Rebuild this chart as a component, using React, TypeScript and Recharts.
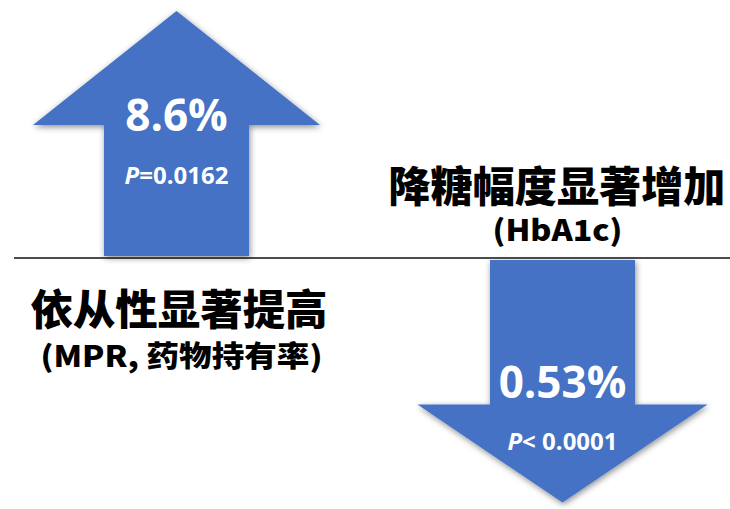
import { ComposedChart, Bar, XAxis, YAxis, ReferenceLine } from "recharts";

const categories = ["MPR", "HbA1c"];
const arrowValues = [1, -0.99];
const changes = ["8.6%", "0.53%"];
const pSigns = ["=", "< "];
const pValues = ["0.0162", "0.0001"];
const titles = ["依从性显著提高", "降糖幅度显著增加"];
const subtitles = ["(MPR, 药物持有率)", "(HbA1c)"];

const data = categories.map((name, i) => ({
  name,
  value: arrowValues[i],
  change: changes[i],
  pSign: pSigns[i],
  pValue: pValues[i],
  title: titles[i],
  subtitle: subtitles[i],
}));

const TITLE_W = [297, 337];
const SUB_W = [282, 130];

const BLUE = "#4472C4";
const NUM_FONT = "'Open Sans', 'Noto Sans', sans-serif";
const CJK_FONT = "'Noto Sans CJK SC', sans-serif";

function ArrowShape(props: any) {
  const { x, y, width, height, payload, index } = props;
  const top = Math.min(y, y + height);
  const bottom = Math.max(y, y + height);
  const cx = x + width / 2;
  const up = payload.value > 0;
  const half = width / 2;
  const fid = `shadow-${index}`;

  let points: string;
  let zero: number;
  let t;
  if (up) {
    zero = bottom;
    const tip = top;
    const headBase = tip + 114;
    const wing = 143.5;
    const sb = zero - 2;
    points = [
      [cx, tip], [cx + wing, headBase], [cx + half, headBase], [cx + half, sb],
      [cx - half, sb], [cx - half, headBase], [cx - wing, headBase],
    ].map((p) => p.join(",")).join(" ");
    t = { change: tip + 120, p: tip + 173, title: zero + 67, sub: zero + 109, hx: cx + 2.5, sx: cx + 5 };
  } else {
    zero = top;
    const tip = bottom;
    const headBase = tip - 98;
    const wing = 145;
    const st = zero + 2;
    points = [
      [cx - half, st], [cx + half, st], [cx + half, headBase], [cx + wing, headBase],
      [cx, tip], [cx - wing, headBase], [cx - half, headBase],
    ].map((p) => p.join(",")).join(" ");
    t = { change: tip - 105, p: tip - 53, title: zero - 56, sub: zero - 17, hx: cx - 5.5, sx: cx - 5 };
  }

  return (
    <g>
      <defs>
        <filter id={fid} x="-20%" y="-20%" width="140%" height="140%">
          <feDropShadow dx="1" dy="2" stdDeviation="3" floodColor="#000" floodOpacity="0.45" />
        </filter>
      </defs>
      <polygon points={points} fill={BLUE} filter={`url(#${fid})`} />
      <text x={cx} y={t.change} textAnchor="middle" fill="#fff" fontSize={44} fontWeight={700} fontFamily={NUM_FONT}>
        {payload.change}
      </text>
      <text x={cx} y={t.p} textAnchor="middle" fill="#fff" fontSize={24} fontWeight={700} fontFamily={NUM_FONT}>
        <tspan fontStyle="italic">P</tspan>
        <tspan>{payload.pSign}</tspan>
        <tspan>{payload.pValue}</tspan>
      </text>
      <text
        x={t.hx - TITLE_W[index] / 2}
        y={t.title}
        textLength={TITLE_W[index]}
        lengthAdjust="spacingAndGlyphs"
        fill="#000"
        fontSize={42}
        fontWeight={900}
        fontFamily={CJK_FONT}
      >
        {payload.title}
      </text>
      <text
        x={t.sx - SUB_W[index] / 2}
        y={t.sub}
        textLength={SUB_W[index]}
        lengthAdjust="spacingAndGlyphs"
        fill="#000"
        fontSize={29}
        fontWeight={900}
        fontFamily={CJK_FONT}
      >
        {payload.subtitle}
      </text>
    </g>
  );
}

function BaseLine(props: any) {
  const { x1, x2, y1 } = props;
  return <line x1={Math.max(x1, 14)} x2={x2} y1={y1} y2={y1} stroke="#111" strokeWidth={1.6} />;
}

export default function App() {
  return (
    <div style={{ position: "absolute", left: 0, top: 0, width: 730, height: 509, background: "#fff", overflow: "hidden" }}>
      <ComposedChart width={730} height={509} data={data} margin={{ top: 11, right: -25, bottom: 4, left: -17 }}>
        <XAxis dataKey="name" hide />
        <YAxis hide domain={[-1, 1]} />
        <ReferenceLine y={0} shape={<BaseLine />} />
        <Bar dataKey="value" barSize={145} isAnimationActive={false} shape={<ArrowShape />} />
      </ComposedChart>
    </div>
  );
}
